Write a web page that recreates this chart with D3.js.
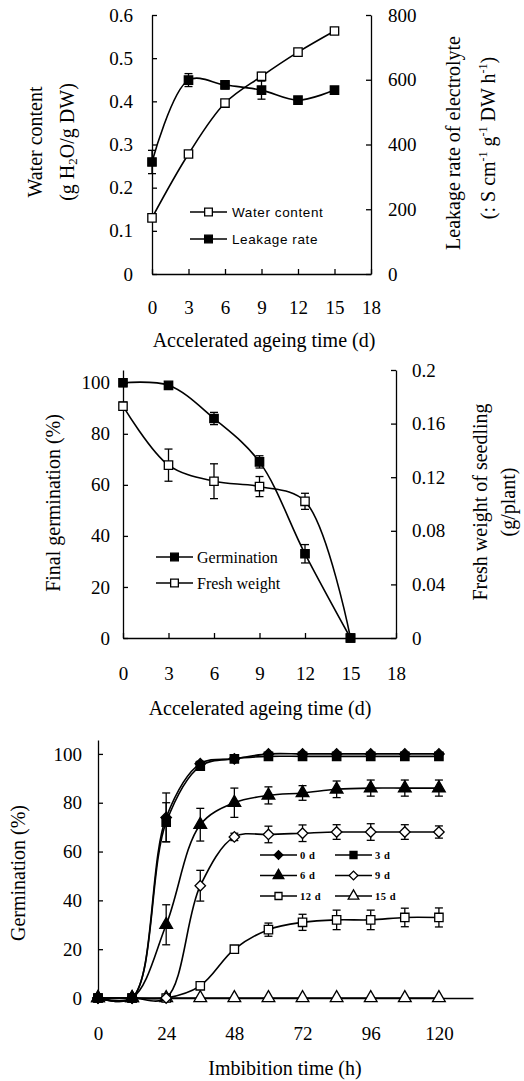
<!DOCTYPE html>
<html>
<head>
<meta charset="utf-8">
<script src="https://cdn.jsdelivr.net/npm/d3@7/dist/d3.min.js"></script>
<style>
  body { margin: 0; background: #fff; }
  svg { display: block; }
  text { font-family: "Liberation Serif", "Times New Roman", serif; fill: #000; }
  .axis path, .axis line { stroke: #000; stroke-width: 1.3; }
  .axis text { font-size: 19px; font-family: "Liberation Serif", "Times New Roman", serif; }
  .title { font-size: 20px; }
  .leg-sans { font-family: "Liberation Sans", Arial, sans-serif; font-size: 13.5px; letter-spacing: 0.6px; }
  .leg-serif { font-size: 16px; }
  .leg-small { font-size: 10.5px; font-weight: bold; letter-spacing: 0.5px; }
</style>
</head>
<body>
<div id="chart"></div>
<script>
// ---- data: panel 1 (water content / leakage) ----
var days = [0, 3, 6, 9, 12, 15];
var waterContent = [0.13, 0.278, 0.396, 0.458, 0.514, 0.563];
var waterErr = [0.004, 0.004, 0.004, 0.009, 0.004, 0.004];
var leakageRate = [346, 599, 584, 568, 537, 568];
var leakageErr = [36, 20, 12, 28, 10, 8];

var dayTicks = [0, 3, 6, 9, 12, 15, 18];
var dayTickLabels = ["0", "3", "6", "9", "12", "15", "18"];
var waterTicks = [0, 0.1, 0.2, 0.3, 0.4, 0.5, 0.6];
var waterTickLabels = ["0", "0.1", "0.2", "0.3", "0.4", "0.5", "0.6"];
var leakTicks = [0, 200, 400, 600, 800];
var leakTickLabels = ["0", "200", "400", "600", "800"];

// ---- data: panel 2 (final germination / fresh weight) ----
var finalGerm = [100, 99, 86, 69, 33, 0];
var finalGermErr = [1.5, 1, 2.4, 2.4, 3.6, 0];
var freshWeight = [0.173, 0.129, 0.117, 0.113, 0.102, 0];
var freshWeightErr = [0.003, 0.012, 0.013, 0.0075, 0.006, 0];

var germTicks = [0, 20, 40, 60, 80, 100];
var germTickLabels = ["0", "20", "40", "60", "80", "100"];
var fwTicks = [0, 0.04, 0.08, 0.12, 0.16, 0.2];
var fwTickLabels = ["0", "0.04", "0.08", "0.12", "0.16", "0.2"];

// ---- data: panel 3 (germination time course) ----
var hours = [0, 12, 24, 36, 48, 60, 72, 84, 96, 108, 120];
var hourTicks = [0, 24, 48, 72, 96, 120];
var hourTickLabels = ["0", "24", "48", "72", "96", "120"];
var seriesNames = ["0 d", "3 d", "6 d", "9 d", "12 d", "15 d"];
var g0 = [0, 0, 74, 96, 98, 100, 100, 100, 100, 100, 100];
var g0Err = [0, 0, 10, 1, 1, 0.5, 0.5, 0.5, 0.5, 0.5, 0.5];
var g3 = [0, 0, 72, 95, 98, 99, 99, 99, 99, 99, 99];
var g3Err = [0, 0, 8, 1.5, 1, 0.5, 0.5, 0.5, 0.5, 0.5, 0.5];
var g6 = [0, 0, 30, 71, 80, 83, 84, 85.5, 86, 86, 86];
var g6Err = [0, 0, 8.2, 6.7, 6, 3.5, 3, 3.4, 3.3, 3.3, 3.3];
var g9 = [0, 0, 0, 46, 66, 67, 67.5, 68, 68, 68, 68];
var g9Err = [0, 0, 0, 6.3, 1.5, 3.4, 3.4, 3, 3.4, 3, 2.5];
var g12 = [0, 0, 0, 5, 20, 28, 31, 32, 32, 33, 33];
var g12Err = [0, 0, 0, 0.5, 1, 2.7, 3.3, 4, 4, 3.8, 3.9];
var g15 = [0, 0, 0, 0, 0, 0, 0, 0, 0, 0, 0];
var g15Err = [0, 0, 0, 0, 0, 0, 0, 0, 0, 0, 0];

var svg = d3.select("#chart").append("svg")
  .attr("width", 524)
  .attr("height", 1081);

var smooth = d3.curveCatmullRom.alpha(0.5);

// marker shapes: diamond = square turned 45 degrees
var shapes = {
  square:   { type: d3.symbolSquare, rot: 0, size: 70 },
  diamond:  { type: d3.symbolSquare, rot: 45, size: 55 },
  triangle: { type: d3.symbolTriangle, rot: 0, size: 70 }
};

function marker(g, shape, filled, scale) {
  var sh = shapes[shape];
  return g.append("path")
    .attr("d", d3.symbol().type(sh.type).size(sh.size * (scale || 1)))
    .attr("fill", filled ? "#000" : "#fff")
    .attr("stroke", "#000")
    .attr("stroke-width", 1.3);
}

// draw one series: line, error bars, markers
function drawSeries(g, xs, ys, errs, x, y, shape, filled) {
  var line = d3.line()
    .x(function(d, i) { return x(xs[i]); })
    .y(function(d) { return y(d); })
    .curve(smooth);

  g.append("path")
    .datum(ys)
    .attr("d", line)
    .attr("fill", "none")
    .attr("stroke", "#000")
    .attr("stroke-width", 1.6);

  var eb = g.append("g").attr("stroke", "#000").attr("stroke-width", 1.3);
  ys.forEach(function(v, i) {
    var e = errs[i];
    if (!e) return;
    var cx = x(xs[i]);
    eb.append("line").attr("x1", cx).attr("x2", cx).attr("y1", y(v - e)).attr("y2", y(v + e));
    eb.append("line").attr("x1", cx - 4).attr("x2", cx + 4).attr("y1", y(v - e)).attr("y2", y(v - e));
    eb.append("line").attr("x1", cx - 4).attr("x2", cx + 4).attr("y1", y(v + e)).attr("y2", y(v + e));
  });

  var mg = g.append("g");
  ys.forEach(function(v, i) {
    marker(mg, shape, filled)
      .attr("transform", "translate(" + x(xs[i]) + "," + y(v) + ") rotate(" + shapes[shape].rot + ")");
  });
}

function legendItem(g, x1, x2, yy, shape, filled, scale, label, cls, tx) {
  g.append("line")
    .attr("x1", x1).attr("x2", x2).attr("y1", yy).attr("y2", yy)
    .attr("stroke", "#000").attr("stroke-width", 1.5);
  marker(g, shape, filled, scale)
    .attr("transform", "translate(" + ((x1 + x2) / 2) + "," + yy + ") rotate(" + shapes[shape].rot + ")");
  g.append("text")
    .attr("class", cls)
    .attr("x", tx).attr("y", yy)
    .attr("dy", "0.35em")
    .text(label);
}

function rotLabel(g, x, y, txt) {
  return g.append("text")
    .attr("class", "title")
    .attr("transform", "translate(" + x + "," + y + ") rotate(-90)")
    .attr("text-anchor", "middle")
    .text(txt);
}

function labelsFor(ticks, labels) {
  return function(d) { return labels[ticks.indexOf(d)]; };
}

// ================= Panel 1 =================
var p1 = svg.append("g");
var x1 = d3.scaleLinear().domain([0, 18]).range([152, 371]);
var y1L = d3.scaleLinear().domain([0, 0.6]).range([274, 15]);
var y1R = d3.scaleLinear().domain([0, 800]).range([274, 15]);

p1.append("g").attr("class", "axis")
  .attr("transform", "translate(0,274)")
  .call(d3.axisBottom(x1).tickValues(dayTicks).tickFormat(labelsFor(dayTicks, dayTickLabels))
    .tickSizeInner(-5).tickSizeOuter(0).tickPadding(27));
p1.append("g").attr("class", "axis")
  .attr("transform", "translate(152,0)")
  .call(d3.axisLeft(y1L).tickValues(waterTicks).tickFormat(labelsFor(waterTicks, waterTickLabels))
    .tickSizeInner(-5).tickSizeOuter(0).tickPadding(19));
p1.append("g").attr("class", "axis")
  .attr("transform", "translate(371,0)")
  .call(d3.axisRight(y1R).tickValues(leakTicks).tickFormat(labelsFor(leakTicks, leakTickLabels))
    .tickSizeInner(-5).tickSizeOuter(0).tickPadding(17));

drawSeries(p1, days, waterContent, waterErr, x1, y1L, "square", false);
drawSeries(p1, days, leakageRate, leakageErr, x1, y1R, "square", true);

legendItem(p1, 190, 227, 212, "square", false, 0.85, "Water content", "leg-sans", 232);
legendItem(p1, 190, 227, 239, "square", true, 0.85, "Leakage rate", "leg-sans", 232);

p1.append("text").attr("class", "title")
  .attr("x", 264).attr("y", 347).attr("text-anchor", "middle")
  .text("Accelerated ageing time (d)");
rotLabel(p1, 42, 142, "Water content");
var wl = rotLabel(p1, 74, 142, "(g H");
wl.append("tspan").attr("font-size", "13px").attr("dy", "3").text("2");
wl.append("tspan").attr("dy", "-3").text("O/g DW)");
rotLabel(p1, 460, 143, "Leakage rate of electrolyte");
var ul = rotLabel(p1, 495, 138, "(: S cm");
ul.append("tspan").attr("font-size", "12px").attr("dy", "-8").text("-1");
ul.append("tspan").attr("dy", "8").text(" g");
ul.append("tspan").attr("font-size", "12px").attr("dy", "-8").text("-1");
ul.append("tspan").attr("dy", "8").text(" DW h");
ul.append("tspan").attr("font-size", "12px").attr("dy", "-8").text("-1");
ul.append("tspan").attr("dy", "8").text(")");

// ================= Panel 2 =================
var p2 = svg.append("g");
var x2 = d3.scaleLinear().domain([0, 18]).range([123, 396]);
var y2L = d3.scaleLinear().domain([0, 105]).range([638, 370]);
var y2R = d3.scaleLinear().domain([0, 0.2]).range([638, 370]);

p2.append("g").attr("class", "axis")
  .attr("transform", "translate(0,638)")
  .call(d3.axisBottom(x2).tickValues(dayTicks).tickFormat(labelsFor(dayTicks, dayTickLabels))
    .tickSizeInner(-5).tickSizeOuter(0).tickPadding(29));
p2.append("g").attr("class", "axis")
  .attr("transform", "translate(123,0)")
  .call(d3.axisLeft(y2L).tickValues(germTicks).tickFormat(labelsFor(germTicks, germTickLabels))
    .tickSizeInner(-5).tickSizeOuter(0).tickPadding(13));
p2.append("g").attr("class", "axis")
  .attr("transform", "translate(396,0)")
  .call(d3.axisRight(y2R).tickValues(fwTicks).tickFormat(labelsFor(fwTicks, fwTickLabels))
    .tickSizeInner(-5).tickSizeOuter(0).tickPadding(16));

drawSeries(p2, days, freshWeight, freshWeightErr, x2, y2R, "square", false);
drawSeries(p2, days, finalGerm, finalGermErr, x2, y2L, "square", true);

legendItem(p2, 156, 193, 557, "square", true, 0.85, "Germination", "leg-serif", 197);
legendItem(p2, 156, 193, 583, "square", false, 0.85, "Fresh weight", "leg-serif", 197);

p2.append("text").attr("class", "title")
  .attr("x", 260).attr("y", 715).attr("text-anchor", "middle")
  .text("Accelerated ageing time (d)");
rotLabel(p2, 60, 503, "Final germination (%)");
rotLabel(p2, 487, 502, "Fresh weight of seedling");
rotLabel(p2, 515, 502, "(g/plant)");

// ================= Panel 3 =================
var p3 = svg.append("g");
var x3 = d3.scaleLinear().domain([0, 132]).range([98, 473]);
var y3 = d3.scaleLinear().domain([0, 105.7]).range([998, 740]);

p3.append("g").attr("class", "axis")
  .attr("transform", "translate(0,998)")
  .call(d3.axisBottom(x3).tickValues(hourTicks).tickFormat(labelsFor(hourTicks, hourTickLabels))
    .tickSizeInner(0).tickSizeOuter(0).tickPadding(29));
p3.append("g").attr("class", "axis")
  .attr("transform", "translate(98,0)")
  .call(d3.axisLeft(y3).tickValues(germTicks).tickFormat(labelsFor(germTicks, germTickLabels))
    .tickSizeInner(-5).tickSizeOuter(0).tickPadding(16));

var seriesVals = [g0, g3, g6, g9, g12, g15];
var seriesErrs = [g0Err, g3Err, g6Err, g9Err, g12Err, g15Err];
var seriesShape = ["diamond", "square", "triangle", "diamond", "square", "triangle"];
var seriesFill = [true, true, true, false, false, false];

for (var s = seriesVals.length - 1; s >= 0; s--) {
  drawSeries(p3, hours, seriesVals[s], seriesErrs[s], x3, y3, seriesShape[s], seriesFill[s]);
}

// legend, two columns
seriesNames.forEach(function(name, i) {
  var col = i % 2, row = Math.floor(i / 2);
  var lx = col === 0 ? 260 : 335;
  var ly = 855 + row * 20.5;
  legendItem(p3, lx, lx + 37, ly, seriesShape[i], seriesFill[i], 0.7, name, "leg-small", lx + 40);
});

p3.append("text").attr("class", "title")
  .attr("x", 285).attr("y", 1075).attr("text-anchor", "middle")
  .text("Imbibition time (h)");
rotLabel(p3, 25, 873, "Germination (%)");
</script>
</body>
</html>
